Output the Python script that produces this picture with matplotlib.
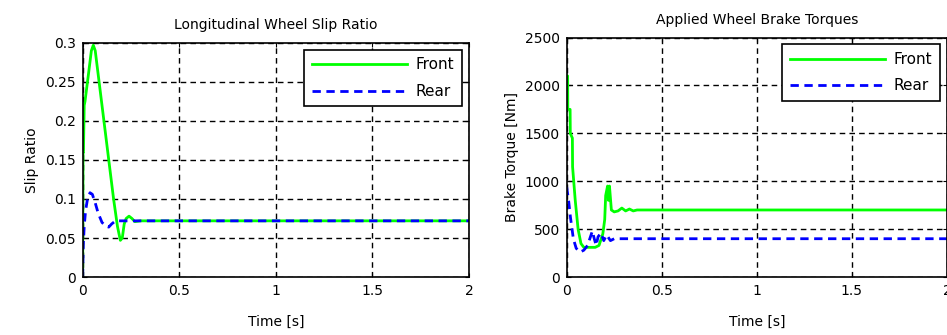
import matplotlib
matplotlib.use('Agg')
import matplotlib.pyplot as plt

# slip ratio traces
t_slip_front = [0, 0.002, 0.004, 0.008, 0.012, 0.03, 0.045, 0.055, 0.065, 0.08, 0.1, 0.12,
                0.14, 0.16, 0.18, 0.195, 0.205, 0.215, 0.225, 0.24, 0.255, 0.27, 0.3, 2.0]
slip_front = [0, 0.16, 0.16, 0.22, 0.225, 0.26, 0.29, 0.297, 0.29, 0.26, 0.22, 0.18,
              0.14, 0.10, 0.065, 0.047, 0.05, 0.068, 0.075, 0.078, 0.075, 0.071, 0.072, 0.072]
t_slip_rear = [0, 0.003, 0.008, 0.015, 0.025, 0.038, 0.05, 0.065, 0.08, 0.1, 0.12, 0.135,
               0.15, 0.17, 0.2, 2.0]
slip_rear = [0, 0.04, 0.065, 0.085, 0.1, 0.108, 0.106, 0.095, 0.082, 0.07, 0.065, 0.064,
             0.068, 0.072, 0.072, 0.072]

# brake torque traces
t_torq_front = [0, 0.005, 0.006, 0.018, 0.019, 0.03, 0.031, 0.045, 0.06, 0.075, 0.09, 0.12,
                0.15, 0.17, 0.19, 0.2, 0.205, 0.215, 0.22, 0.225, 0.235, 0.25, 0.27, 0.29,
                0.31, 0.33, 0.35, 0.37, 2.0]
torq_front = [2100, 2100, 1750, 1750, 1500, 1450, 1150, 800, 500, 350, 310, 310,
              310, 330, 450, 600, 850, 950, 800, 950, 700, 680, 690, 720,
              690, 710, 690, 700, 700]
t_torq_rear = [0, 0.01, 0.02, 0.035, 0.05, 0.07, 0.09, 0.11, 0.125, 0.135, 0.145, 0.155,
               0.165, 0.18, 0.195, 0.21, 0.23, 0.25, 2.0]
torq_rear = [940, 800, 620, 400, 300, 260, 280, 330, 420, 480, 400, 330,
             420, 460, 380, 440, 380, 400, 400]

xticks = [0, 0.5, 1, 1.5, 2]
xticklabels = ['0', '0.5', '1', '1.5', '2']
slip_ticks = [0, 0.05, 0.1, 0.15, 0.2, 0.25, 0.3]
slip_ticklabels = ['0', '0.05', '0.1', '0.15', '0.2', '0.25', '0.3']
torq_ticks = [0, 500, 1000, 1500, 2000, 2500]

plt.rcParams['font.family'] = ['DejaVu Sans']
plt.rcParams['font.size'] = 10

fig = plt.figure(figsize=(9.47, 3.35), dpi=100)
ax1 = fig.add_axes([0.0873, 0.173, 0.408, 0.699])
ax2 = fig.add_axes([0.5984, 0.173, 0.4016, 0.715])


def style(ax, title, ylabel, ylim, yticks, yticklabels):
    ax.set_xlim(0, 2)
    ax.set_ylim(*ylim)
    ax.set_xticks(xticks)
    ax.set_xticklabels(xticklabels)
    ax.set_yticks(yticks)
    ax.set_yticklabels(yticklabels)
    ax.grid(True, color='black', linestyle=(0, (4, 3)), linewidth=1)
    ax.tick_params(direction='in', length=3, top=True, right=True, labelsize=10, pad=5)
    ax.set_title(title, fontsize=10, pad=10)
    ax.set_xlabel('Time [s]', fontsize=10, labelpad=12)
    ax.set_ylabel(ylabel, fontsize=10)
    for s in ax.spines.values():
        s.set_linewidth(1.2)
    leg = ax.legend(loc='upper right', handlelength=6.2, handletextpad=0.6, fontsize=11,
                    fancybox=False, framealpha=1, edgecolor='black', borderaxespad=0.45,
                    labelspacing=0.75, borderpad=0.5)
    leg.get_frame().set_linewidth(1.2)


ax1.plot(t_slip_front, slip_front, color='#00ff00', linewidth=2, label='Front')
ax1.plot(t_slip_rear, slip_rear, color='#0000ff', linewidth=2, linestyle=(0, (3, 2)), label='Rear')
style(ax1, 'Longitudinal Wheel Slip Ratio', 'Slip Ratio', (0, 0.3), slip_ticks, slip_ticklabels)

ax2.plot(t_torq_front, torq_front, color='#00ff00', linewidth=2, label='Front')
ax2.plot(t_torq_rear, torq_rear, color='#0000ff', linewidth=2, linestyle=(0, (3, 2)), label='Rear')
style(ax2, 'Applied Wheel Brake Torques', 'Brake Torque [Nm]', (0, 2500), torq_ticks,
      [str(v) for v in torq_ticks])

fig.savefig('out.png', dpi=100)
